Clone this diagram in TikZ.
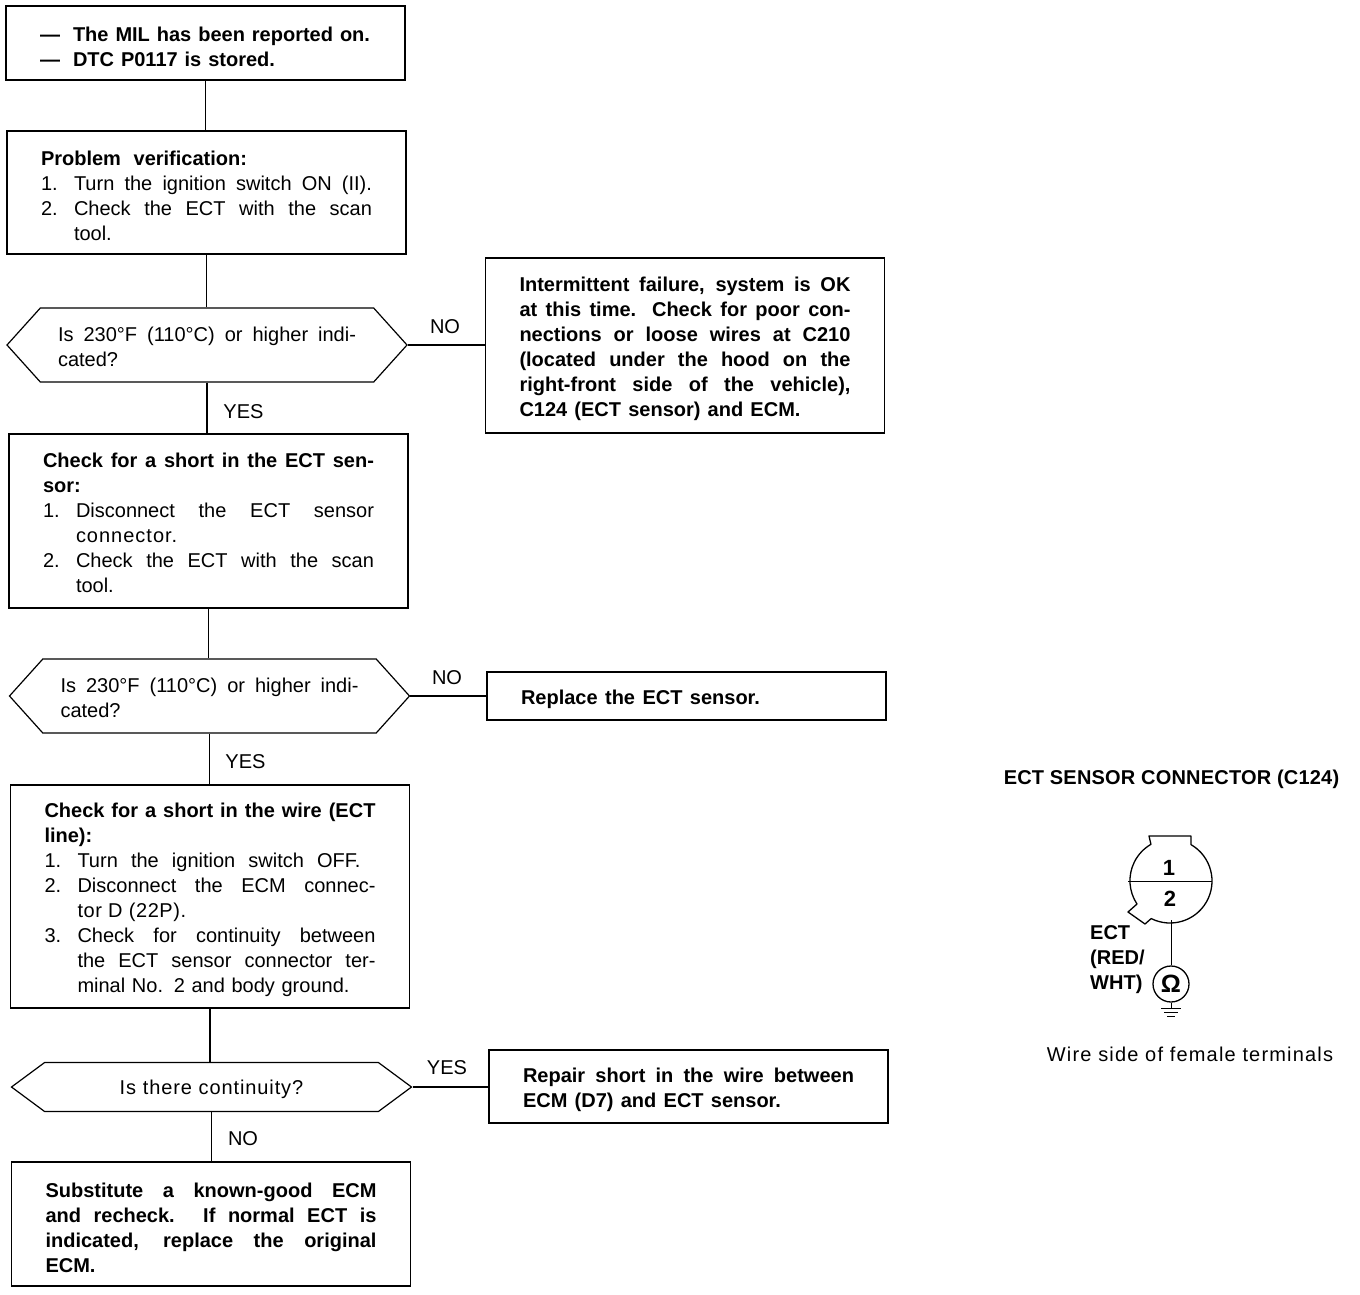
\documentclass[tikz,border=0pt]{standalone}
\usepackage{fontspec}
\setmainfont{Liberation Sans}
\usetikzlibrary{shapes.symbols}
\newcommand\jj[2]{\makebox[#1][s]{\spaceskip=0pt\xspaceskip=0pt #2}}
\newcommand\itm[2]{\makebox[33pt][l]{#1}\jj{298pt}{#2}}
\newcommand\cnt[1]{\hspace*{33pt}#1}
\newcommand\lsp[2]{{\addfontfeature{LetterSpace=#1}#2}}
\tikzset{
  x=1pt,y=-1pt,
  every node/.style={font=\fontsize{20}{25}\selectfont},
  line/.style={draw=black,line width=1.2pt},
  boxbase/.style={line,rectangle,inner xsep=34pt,inner ysep=0pt,text width=331pt,align=flush left,minimum width=399pt},
  box/.style={boxbase,execute at begin node={\rule{0pt}{22pt}}},
  boxhigh/.style={boxbase,execute at begin node={\rule{0pt}{18pt}}},
  hex/.style={line,signal,signal to=west and east,signal pointer angle=96,inner xsep=0pt,inner ysep=0pt,minimum width=400pt,minimum height=74pt,text width=298pt,align=flush left,execute at begin node={\rule{0pt}{19pt}}},
  conn/.style={line},
  lbl/.style={inner sep=0pt},
  thin/.style={draw=black,line width=0.8pt},
  thick2/.style={draw=black,line width=1.3pt},
  bf/.style={font=\fontsize{20}{25}\selectfont\bfseries},
}
\begin{document}
\begin{tikzpicture}
\useasboundingbox (0,0) rectangle (1360,1294);
\node[box,bf,minimum height=74pt] (b1) at (205.5,43) {\makebox[33pt][l]{---}\jj{297pt}{The MIL has been reported on.}\\\makebox[33pt][l]{---}\jj{202pt}{DTC P0117 is stored.}};
\node[box,minimum height=123pt] (b2) at (206.5,192.5) {\jj{206pt}{\textbf{Problem verification:}}\\\itm{1.}{Turn the ignition switch ON (II).}\\\itm{2.}{Check the ECT with the scan}\\\cnt{tool.}};
\node[hex] (d1) at (207,345) {\jj{298pt}{Is 230°F (110°C) or higher indi-}\\cated?};
\node[box,bf,minimum height=175pt] (b3) at (685,345.5) {\jj{331pt}{Intermittent failure, system is OK}\\\jj{331pt}{at this time. Check for poor con-}\\\jj{331pt}{nections or loose wires at C210}\\\jj{331pt}{(located under the hood on the}\\\jj{331pt}{right-front side of the vehicle),}\\\jj{281pt}{C124 (ECT sensor) and ECM.}};
\node[boxhigh,minimum height=174pt] (b4) at (208.5,521) {\jj{331pt}{\textbf{Check for a short in the ECT sen-}}\\\textbf{sor:}\\\itm{1.}{Disconnect the ECT sensor}\\\cnt{\lsp{5}{connector.}}\\\itm{2.}{Check the ECT with the scan}\\\cnt{tool.}};
\node[hex] (d2) at (209.5,696) {\jj{298pt}{Is 230°F (110°C) or higher indi-}\\cated?};
\node[box,bf,minimum height=48pt] (b5) at (686.5,696) {\jj{239pt}{Replace the ECT sensor.}};
\node[box,minimum height=223pt] (b6) at (210,896.5) {\jj{331pt}{\textbf{Check for a short in the wire (ECT}}\\\textbf{line):}\\\makebox[33pt][l]{1.}\jj{283pt}{Turn the ignition switch OFF.}\\\itm{2.}{Disconnect the ECM connec-}\\\cnt{\lsp{3}{tor D (22P).}}\\\itm{3.}{Check for continuity between}\\\cnt{\jj{298pt}{the ECT sensor connector ter-}}\\\cnt{\jj{272pt}{minal No. 2 and body ground.}}};
\node[hex,minimum height=49pt,signal pointer angle=73,align=center] (d3) at (211.5,1087) {\lsp{4.5}{Is there continuity?}};
\node[box,bf,minimum height=73pt] (b7) at (688.5,1086.5) {\jj{331pt}{Repair short in the wire between}\\\jj{258pt}{ECM (D7) and ECT sensor.}};
\node[box,bf,minimum height=124pt] (b8) at (211,1224) {\jj{331pt}{Substitute a known-good ECM}\\\jj{331pt}{and recheck. If normal ECT is}\\\jj{331pt}{indicated, replace the original}\\ECM.};

\draw[conn] (b1.south) -- (b1.south |- b2.north);
\draw[conn] (b2.south) -- (b2.south |- d1.north);
\draw[conn] (d1.south) -- (d1.south |- b4.north);
\draw[conn] (b4.south) -- (b4.south |- d2.north);
\draw[conn] (d2.south) -- (d2.south |- b6.north);
\draw[conn] (b6.south) -- (b6.south |- d3.north);
\draw[conn] (d3.south) -- (d3.south |- b8.north);
\draw[conn] (d1.east) -- (d1.east -| b3.west);
\draw[conn] (d2.east) -- (d2.east -| b5.west);
\draw[conn] (d3.east) -- (d3.east -| b7.west);

\node[lbl] (n1) at (445,327) {NO};
\node[lbl] (y1) at (243.5,412) {YES};
\node[lbl] (n2) at (447,678) {NO};
\node[lbl] (y2) at (245.5,762) {YES};
\node[lbl] (y3) at (447,1068) {YES};
\node[lbl] (n3) at (243,1139) {NO};

\node[lbl,bf] (title) at (1171.5,779) {\lsp{1}{ECT SENSOR CONNECTOR (C124)}};
\coordinate (c) at (1170,881);
\draw[thick2,line join=round] ([shift={(60:42pt)}]c) arc (60:-116.6:42pt) -- (1145,924) -- (1128,912) -- (1137,904) arc (213.7:120:42pt) -- (1149,836) -- (1191,836) -- cycle;
\coordinate (dl) at (1128,881);
\coordinate (dr) at (1212,881);
\draw[thin] (dl) -- (dr);
\node[lbl,font=\fontsize{22}{25}\selectfont\bfseries] (t1) at (1169,868) {1};
\node[lbl,font=\fontsize{22}{25}\selectfont\bfseries] (t2) at (1170,899) {2};
\coordinate (w) at (1171,920);
\node[thick2,circle,minimum size=36pt,inner sep=0pt,font=\fontsize{25}{25}\selectfont\bfseries] (ohm) at (1171,984) {Ω};
\draw[thin] (w) -- (ohm.north);
\coordinate (g1) at (1171,1008);
\draw[thin] (ohm.south) -- (g1);
\draw[thick2,line width=1pt] (1161,1008) -- (1181,1008) (1164,1012) -- (1178,1012) (1167,1016) -- (1175,1016);
\node[lbl,bf,anchor=north west,align=flush left] (ect) at (1090,925) {ECT\\(RED/\\WHT)};
\node[lbl] (side) at (1190,1054) {\lsp{5.9}{Wire side of female terminals}};
\end{tikzpicture}
\end{document}
